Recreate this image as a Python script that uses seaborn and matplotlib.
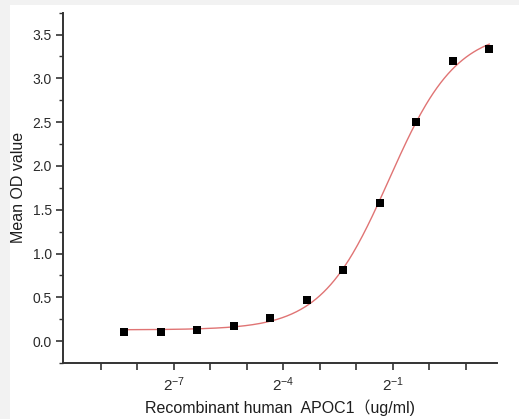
import numpy as np
import pandas as pd
import seaborn as sns
import matplotlib
matplotlib.use("Agg")
import matplotlib.pyplot as plt
from matplotlib.ticker import MultipleLocator, FixedLocator

# concentration (ug/ml), two-fold dilution series
conc = [0.00305, 0.0061, 0.0122, 0.0244, 0.0488, 0.0977, 0.1953, 0.3906, 0.7813, 1.5625, 3.125]
# mean OD
od = [0.10, 0.10, 0.125, 0.17, 0.265, 0.475, 0.815, 1.58, 2.50, 3.20, 3.33]

x_ticks = [2.0 ** k for k in range(-9, 2)]
x_labeled = {-7: r'$2^{-7}$', -4: r'$2^{-4}$', -1: r'$2^{-1}$'}


def four_pl(x, p):
    a, b, c, d = p
    return d + (a - d) / (1 + (x / c) ** b)


def fit_four_pl(x, y, p0, n_iter=200):
    """
    simple Levenberg-Marquardt for the 4 parameter logistic curve
    """
    p = np.array(p0, dtype=float)
    lam = 1e-3
    for _ in range(n_iter):
        r = y - four_pl(x, p)
        J = np.empty((len(x), len(p)))
        for j in range(len(p)):
            dp = np.zeros_like(p)
            dp[j] = 1e-6 * max(abs(p[j]), 1e-3)
            J[:, j] = (four_pl(x, p + dp) - four_pl(x, p - dp)) / (2 * dp[j])
        A = J.T @ J
        step = np.linalg.solve(A + lam * np.diag(np.diag(A)), J.T @ r)
        p_new = p + step
        if p_new[2] > 0 and np.sum((y - four_pl(x, p_new)) ** 2) < np.sum(r ** 2):
            p, lam = p_new, lam * 0.3
        else:
            lam *= 10
    return p


x = np.array(conc)
y = np.array(od)
params = fit_four_pl(x, y, [0.12, 1.5, 0.5, 3.5])

x_fit = np.logspace(np.log10(x.min()), np.log10(x.max()), 300)
df_fit = pd.DataFrame({'conc': x_fit, 'od': four_pl(x_fit, params)})
df_pts = pd.DataFrame({'conc': conc, 'od': od})

sns.set_style('ticks')
plt.rcParams['font.family'] = ['Liberation Sans', 'Noto Sans CJK SC']
plt.rcParams['mathtext.fontset'] = 'custom'
plt.rcParams['mathtext.rm'] = 'Liberation Sans'
plt.rcParams['mathtext.it'] = 'Liberation Sans'

fig = plt.figure(figsize=(5.19, 4.19), dpi=100, facecolor='#f2f2f2')
fig.patches.append(plt.Rectangle((10 / 519, 0), 1, 1 - 5 / 419, transform=fig.transFigure,
                                 facecolor='white', edgecolor='none', zorder=-1))
ax = fig.add_axes([63 / 519, 1 - 363 / 419, 434 / 519, 350.3 / 419])
ax.set_facecolor('white')

sns.lineplot(data=df_fit, x='conc', y='od', ax=ax, color='#e07474', linewidth=1.0)
sns.scatterplot(data=df_pts, x='conc', y='od', ax=ax, marker='s', s=34,
                color='black', edgecolor='black', linewidth=0, zorder=3)

ax.set_xscale('log', base=2)
ax.set_xlim(2.0 ** -10.04, 2.0 ** 1.85)
ax.set_ylim(-0.25, 3.75)
ax.xaxis.set_major_locator(FixedLocator(x_ticks))
ax.xaxis.set_minor_locator(FixedLocator([]))
ax.set_xticklabels([x_labeled.get(k, '') for k in range(-9, 2)])
ax.yaxis.set_major_locator(MultipleLocator(0.5))
ax.yaxis.set_minor_locator(MultipleLocator(0.25))
ax.yaxis.set_major_formatter(matplotlib.ticker.FormatStrFormatter('%.1f'))

sns.despine(ax=ax)
for s in ['left', 'bottom']:
    ax.spines[s].set_linewidth(1.4)
    ax.spines[s].set_color('#333333')
ax.tick_params(axis='both', which='major', length=5, width=1.2, color='#333333',
               labelsize=10, labelcolor='#2a2a2a', pad=3)
ax.tick_params(axis='x', which='major', labelsize=11, pad=4)
ax.tick_params(axis='y', which='minor', length=3, width=1.0, color='#333333')

ax.set_xlabel('Recombinant human  APOC1（ug/ml)', fontsize=11.5, color='#1e1e1e', labelpad=4)
ax.set_ylabel('Mean OD value', fontsize=11.5, color='#1e1e1e', labelpad=5)

fig.savefig('out.png', dpi=100, facecolor=fig.get_facecolor())
